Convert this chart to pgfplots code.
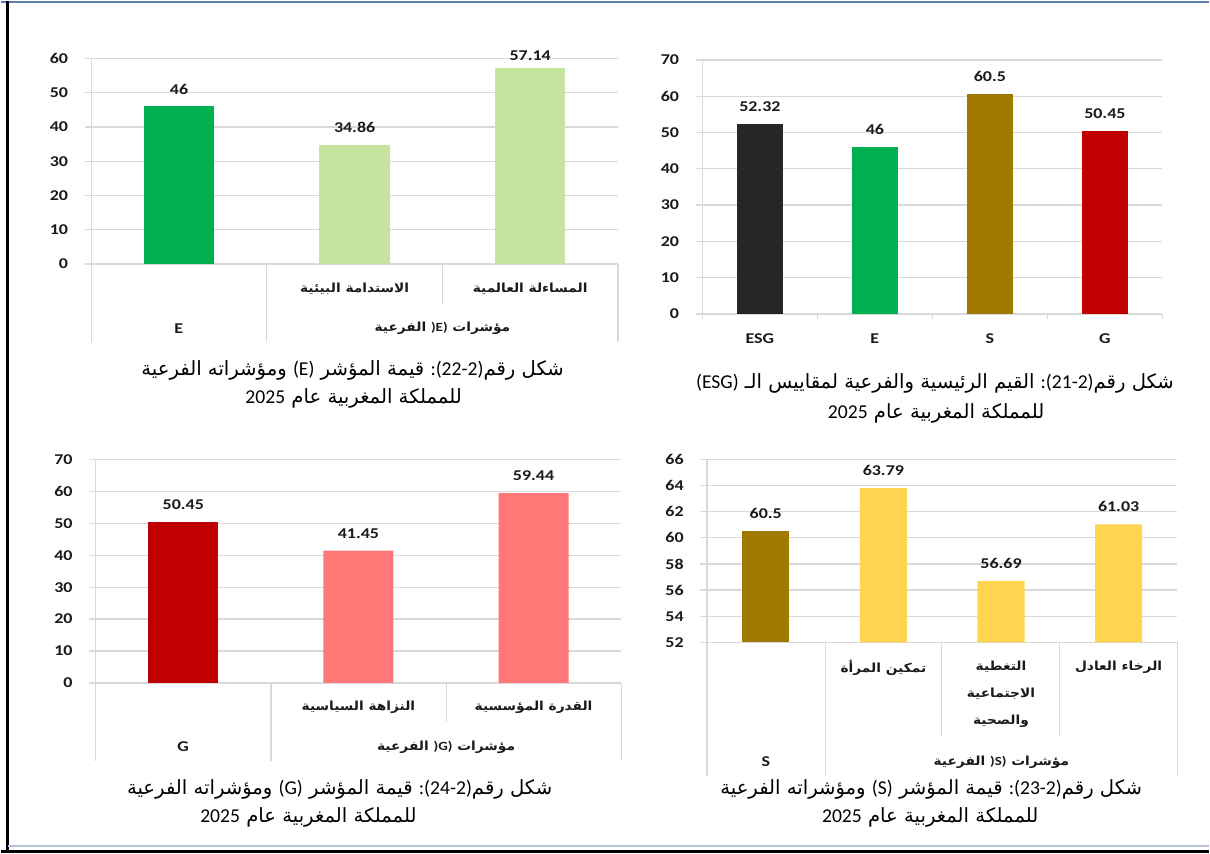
\documentclass[border=0pt]{standalone}
\usepackage{fontspec}
\usepackage{pgfplots}
\pgfplotsset{compat=1.18}
\TeXXeTstate=1
\setmainfont{Carlito}
\newfontfamily\lb{Carlito}[FakeStretch=1.2]
\newfontfamily\lr{Carlito}
\newfontfamily\ar{DejaVu Sans}[Script=Arabic]
\newfontfamily\arx{DejaVu Sans}[Script=Arabic, FakeStretch=1.1]

\definecolor{gridc}{HTML}{D9D9D9}
\definecolor{txt}{HTML}{1A1A1A}
\definecolor{cESG}{HTML}{262626}
\definecolor{cE}{HTML}{00B050}
\definecolor{cS}{HTML}{A07A00}
\definecolor{cG}{HTML}{C00000}
\definecolor{cEl}{HTML}{C4E4A0}
\definecolor{cSl}{HTML}{FFD44F}
\definecolor{cGl}{HTML}{FF7777}
\definecolor{topb}{HTML}{5E7EAE}
\definecolor{botb}{HTML}{B8C3DA}

% bold Arabic fonts for category labels
\newcommand{\arb}{\arx\bfseries\fontsize{9.4pt}{20.3pt}\selectfont}
\newcommand{\argp}{\arx\bfseries\fontsize{9.4pt}{13pt}\selectfont}

\pgfplotsset{
  panel/.style={
    scale only axis, anchor=south west,
    ybar, bar width=0.4, clip mode=individual,
    axis lines=left, axis line style={-, draw=gridc, line width=1pt},
    ymajorgrids, grid style={draw=gridc, line width=1pt},
    tick align=outside, major tick length=4.9pt,
    ytick style={draw=gridc, line width=1pt},
    xtick style={draw=none},
    tick label style={font=\lb\bfseries\fontsize{11.25pt}{13pt}\selectfont, text=txt},
    yticklabel style={anchor=east, inner sep=0pt, xshift=-12.4pt},
    xticklabel style={anchor=center, inner sep=0pt, yshift=-13.4pt},
    nodes near coords={\pgfmathprintnumber[fixed,precision=2]{\pgfplotspointmeta}},
    every node near coord/.append style={font=\lb\bfseries\fontsize{11.25pt}{13pt}\selectfont,
      text=txt, anchor=center, yshift=13.1pt},
    /pgf/number format/assume math mode=true,
    enlargelimits=false,
  },
  bar/.style={draw=none, bar shift=0pt, fill=#1},
}

\begin{document}
\begin{tikzpicture}
\begin{scope}[x=0.75pt,y=-0.75pt]
\path[use as bounding box, fill=white] (0,0) rectangle (1210,854);
\end{scope}

% (2-22) E
\begin{axis}[panel, at={(67.5pt,-197.475pt)}, width=396pt, height=154.5pt,
  xmin=-0.5, xmax=2.5, ymin=0, ymax=60, ytick={0,10,...,60},
  xtick={0,1,2},
  xticklabels={{},{\arb\beginR الاستدامة البيئية\endR},{\arb\beginR المساءلة العالمية\endR}}]
\addplot[bar=cE] coordinates {(0,46)};
\addplot[bar=cEl] coordinates {(1,34.86)};
\addplot[bar=cEl, every node near coord/.append style={yshift=-3.4pt}] coordinates {(2,57.14)};
\end{axis}

% (2-21) ESG
\begin{axis}[panel, at={(526.95pt,-234.975pt)}, width=345.825pt, height=190.95pt,
  xmin=-0.5, xmax=3.5, ymin=0, ymax=70, ytick={0,10,...,70},
  xtick={0,1,2,3}, xticklabels={ESG,E,S,G}]
\addplot[bar=cESG] coordinates {(0,52.32)};
\addplot[bar=cE] coordinates {(1,46)};
\addplot[bar=cS] coordinates {(2,60.5)};
\addplot[bar=cG] coordinates {(3,50.45)};
\end{axis}

% (2-24) G
\begin{axis}[panel, at={(70.875pt,-512.475pt)}, width=395.025pt, height=168pt,
  xmin=-0.5, xmax=2.5, ymin=0, ymax=70, ytick={0,10,...,70},
  xtick={0,1,2},
  xticklabels={{},{\arb\beginR النزاهة السياسية\endR},{\arb\beginR القدرة المؤسسية\endR}}]
\addplot[bar=cG] coordinates {(0,50.45)};
\addplot[bar=cGl] coordinates {(1,41.45) (2,59.44)};
\end{axis}

% (2-23) S
\begin{axis}[panel, at={(530.4pt,-482.025pt)}, width=353.7pt, height=137.775pt,
  xmin=-0.5, xmax=3.5, ymin=52, ymax=66, ytick={52,54,...,66},
  xtick={0,1,2,3},
  xticklabel style={align=center, anchor=north, yshift=4.9pt,
    font=\arx\bfseries\fontsize{9.4pt}{20.3pt}\selectfont},
  xticklabels={{},{\beginR تمكين المرأة\endR},{\beginR التغطية\endR\\\beginR الاجتماعية\endR\\\beginR والصحية\endR},{\beginR الرخاء العادل\endR}}]
\addplot[bar=cS] coordinates {(0,60.5)};
\addplot[bar=cSl] coordinates {(1,63.79) (2,56.69) (3,61.03)};
\end{axis}

\begin{scope}[x=0.75pt,y=-0.75pt]
% page frame
\draw[topb, line width=1.5pt] (0,1) -- (1210,1);
\draw[black, line width=2pt] (6,0) -- (6,852);
\draw[botb, line width=1.5pt] (7,847) -- (1210,847);
\draw[black, line width=2.2pt] (0,852) -- (1210,852);
% category tables
\draw[gridc, line width=1pt]
  (90,263.3)--(90,341.7) (266,263.3)--(266,341.7) (442,263.3)--(442,303) (618,263.3)--(618,341.7)
  (94.5,683.3)--(94.5,761.7) (270.1,683.3)--(270.1,761.7) (446.4,683.3)--(446.4,722.7) (621.2,683.3)--(621.2,761.7)
  (707.2,642.7)--(707.2,776.7) (825.7,642.7)--(825.7,776.7) (942.6,642.7)--(942.6,737.3)
  (1060.3,642.7)--(1060.3,737.3) (1178.8,642.7)--(1178.8,776.7);
\foreach \xx in {702.6,817.9,933.2,1048.4,1163.7}
  \draw[gridc, line width=1pt] (\xx,313.3) -- (\xx,318.5);
% outer category labels
\begin{scope}[every node/.style={text=txt, font=\lb\bfseries\fontsize{11.25pt}{13pt}\selectfont}]
\node at (177.7,328) {E};
\node at (442,328) {\argp\beginR مؤشرات \beginL{\lb)E)}\endL{} الفرعية\endR};
\node at (182.1,747.3) {G};
\node at (445.7,747.3) {\argp\beginR مؤشرات \beginL{\lb)G)}\endL{} الفرعية\endR};
\node at (766.3,762.3) {S};
\node at (1002.3,762.3) {\argp\beginR مؤشرات \beginL{\lb)S)}\endL{} الفرعية\endR};
\end{scope}
% captions
\begin{scope}[every node/.style={text=black, font=\ar\fontsize{14.75pt}{17pt}\selectfont}]
\node at (352,370) {\beginR شكل رقم\beginL{\lr :(22-2)}\endL{} قيمة المؤشر \beginL{\lr (E)}\endL{} ومؤشراته الفرعية\endR};
\node at (353,398) {\beginR للمملكة المغربية عام \beginL{\lr 2025}\endL\endR};
\node at (935.8,383) {\beginR شكل رقم\beginL{\lr :(21-2)}\endL{} القيم الرئيسية والفرعية لمقاييس الـ \beginL{\lr (ESG)}\endL\endR};
\node at (936.9,413) {\beginR للمملكة المغربية عام \beginL{\lr 2025}\endL\endR};
\node at (339,790) {\beginR شكل رقم\beginL{\lr :(24-2)}\endL{} قيمة المؤشر \beginL{\lr (G)}\endL{} ومؤشراته الفرعية\endR};
\node at (307.7,818) {\beginR للمملكة المغربية عام \beginL{\lr 2025}\endL\endR};
\node at (932,790) {\beginR شكل رقم\beginL{\lr :(23-2)}\endL{} قيمة المؤشر \beginL{\lr (S)}\endL{} ومؤشراته الفرعية\endR};
\node at (931,818) {\beginR للمملكة المغربية عام \beginL{\lr 2025}\endL\endR};
\end{scope}
\end{scope}
\end{tikzpicture}
\end{document}
